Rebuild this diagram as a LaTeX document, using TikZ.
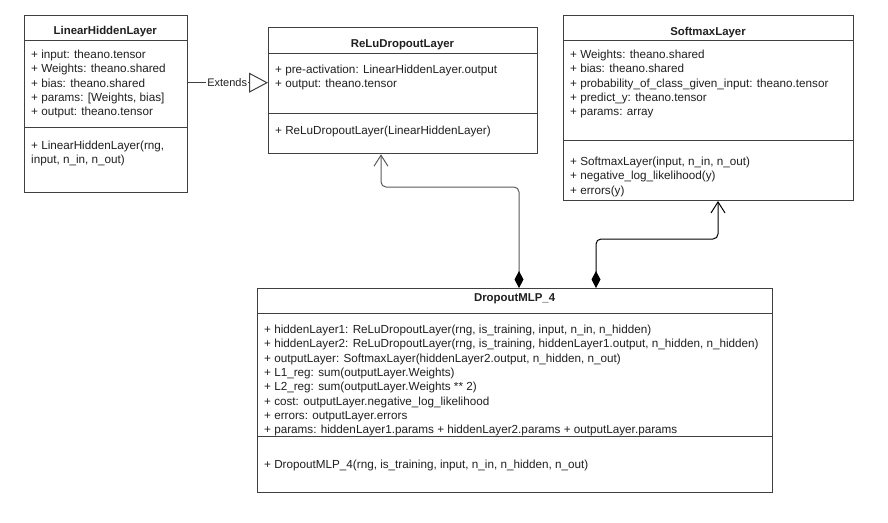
\documentclass[tikz,border=0pt]{standalone}
\usepackage{fontspec}
\setmainfont{Liberation Sans}
\usetikzlibrary{arrows.meta}
\definecolor{bordercol}{HTML}{404040}
\definecolor{textcol}{HTML}{202020}
\tikzset{
  umlbox/.style={draw=bordercol, line width=1pt, fill=white, anchor=north west, inner sep=0pt},
  sepline/.style={draw=bordercol, line width=1pt},
  txt/.style={anchor=base west, inner sep=0pt, text=textcol, font=\fontsize{11.7}{14.4}\selectfont},
  ttl/.style={anchor=base, inner sep=0pt, text=textcol, font=\fontsize{11.4}{14.4}\selectfont\bfseries},
  conn/.style={line width=1pt, rounded corners=5pt, {Diamond[length=17pt,width=9pt,color=black,fill=black]}-{Straight Barb[length=11pt,width=14pt]}},
  extline/.style={draw=bordercol, line width=1pt, -{Triangle[open,length=19pt,width=20pt,fill=white]}},
  extlabel/.style={fill=white, inner sep=1pt, text=textcol, font=\fontsize{11}{13}\selectfont}
}
\begin{document}
\begin{tikzpicture}[x=1pt,y=-1pt]
\useasboundingbox (0,0) rectangle (888,522);

% LinearHiddenLayer
\node[umlbox, minimum width=163.5pt, minimum height=177pt] (lhl) at (23.5,14.5) {};
\draw[sepline] (23.5,40.5) -- (187,40.5);
\draw[sepline] (23.5,127) -- (187,127);
\node[ttl] (lhlt) at (105.3,34.5) {LinearHiddenLayer};
\foreach \t [count=\i from 0] in {{+ input: theano.tensor},{+ Weights: theano.shared},{+ bias: theano.shared},{+ params: [Weights, bias]},{+ output: theano.tensor}}
  \node[txt] (lhla\i) at (31,58.6+14.3*\i) {\t};
\foreach \t [count=\i from 0] in {{+ LinearHiddenLayer(rng,},{input, n\_in, n\_out)}}
  \node[txt] (lhlm\i) at (31,149.4+14.4*\i) {\t};

% ReLuDropoutLayer
\node[umlbox, minimum width=269pt, minimum height=126pt] (relu) at (268,27.3) {};
\draw[sepline] (268,53.3) -- (537,53.3);
\draw[sepline] (268,113.3) -- (537,113.3);
\node[ttl] (relut) at (402.5,47.5) {ReLuDropoutLayer};
\foreach \t [count=\i from 0] in {{+ pre-activation: LinearHiddenLayer.output},{+ output: theano.tensor}}
  \node[txt] (relua\i) at (275,73.5+13.6*\i) {\t};
\node[txt] (relum0) at (275,134.3) {+ ReLuDropoutLayer(LinearHiddenLayer)};

% SoftmaxLayer
\node[umlbox, minimum width=290.8pt, minimum height=185.5pt] (sm) at (562.5,14.5) {};
\draw[sepline] (562.5,40.6) -- (853.3,40.6);
\draw[sepline] (562.5,140.7) -- (853.3,140.7);
\node[ttl] (smt) at (708,35.5) {SoftmaxLayer};
\foreach \t [count=\i from 0] in {{+ Weights: theano.shared},{+ bias: theano.shared},{+ probability\_of\_class\_given\_input: theano.tensor},{+ predict\_y: theano.tensor},{+ params: array}}
  \node[txt] (sma\i) at (570,58.3+14.4*\i) {\t};
\foreach \t [count=\i from 0] in {{+ SoftmaxLayer(input, n\_in, n\_out)},{+ negative\_log\_likelihood(y)},{+ errors(y)}}
  \node[txt] (smm\i) at (570,165.2+14.4*\i) {\t};

% DropoutMLP_4
\node[umlbox, minimum width=514.7pt, minimum height=203.7pt] (dmlp) at (257.3,288) {};
\draw[sepline] (257.3,313.3) -- (772,313.3);
\draw[sepline] (257.3,436) -- (772,436);
\node[ttl] (dmlpt) at (514.6,301) {DropoutMLP\_4};
\foreach \t [count=\i from 0] in {{+ hiddenLayer1: ReLuDropoutLayer(rng, is\_training, input, n\_in, n\_hidden)},{+ hiddenLayer2: ReLuDropoutLayer(rng, is\_training, hiddenLayer1.output, n\_hidden, n\_hidden)},{+ outputLayer: SoftmaxLayer(hiddenLayer2.output, n\_hidden, n\_out)},{+ L1\_reg: sum(outputLayer.Weights)},{+ L2\_reg: sum(outputLayer.Weights ** 2)},{+ cost: outputLayer.negative\_log\_likelihood},{+ errors: outputLayer.errors},{+ params: hiddenLayer1.params + hiddenLayer2.params + outputLayer.params}}
  \node[txt] (dmlpa\i) at (264,333.6+14.3*\i) {\t};
\node[txt] (dmlpm0) at (264,468.3) {+ DropoutMLP\_4(rng, is\_training, input, n\_in, n\_hidden, n\_out)};

% Extends
\coordinate (ey) at (0,82.7);
\draw[extline] (lhl.east |- ey) -- node[extlabel, pos=0.49] (extl) {Extends} (relu.west |- ey);

% Compositions
\coordinate (x1) at (519,0);
\coordinate (x2) at (381,0);
\coordinate (x3) at (596,0);
\coordinate (x4) at (718,0);
\draw[conn, draw=black!65] (dmlp.north -| x1) -- ++(0,-101) -| (relu.south -| x2);
\draw[conn, draw=black] (dmlp.north -| x3) -- ++(0,-49) -| (sm.south -| x4);
\end{tikzpicture}
\end{document}
